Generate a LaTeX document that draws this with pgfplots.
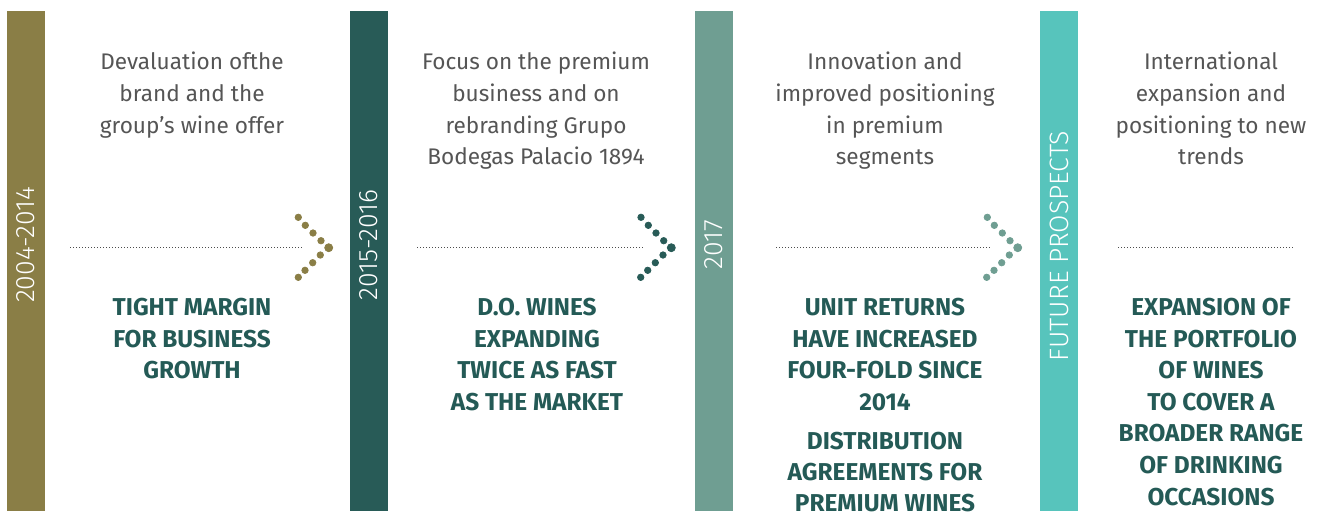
\documentclass[border=0pt]{standalone}
\usepackage{pgfplots}
\pgfplotsset{compat=1.18}
\usepackage{fontspec}
\setmainfont{Fira Sans}
\newfontfamily\lightfont{Fira Sans Light}
\definecolor{olive}{HTML}{8A7E46}
\definecolor{darkteal}{HTML}{285B57}
\definecolor{sage}{HTML}{6F9E92}
\definecolor{turq}{HTML}{57C4BC}
\definecolor{graytext}{HTML}{555555}
\definecolor{boldteal}{HTML}{245A56}
\tikzset{
  gt/.style={anchor=base, inner sep=0pt, text=graytext, font=\fontsize{11.3}{12}\selectfont},
  bt/.style={anchor=base, inner sep=0pt, text=boldteal, font=\fontsize{12.2}{12}\selectfont\bfseries},
  vt/.style={rotate=90, inner sep=0pt, text=white, font=\fontsize{13.3}{14}\selectfont\lightfont}}
\begin{document}
\begin{tikzpicture}
\useasboundingbox (0,0) rectangle (660pt,255.5pt);
\clip (0,0) rectangle (660pt,255.5pt);
\begin{axis}[at={(0,0)}, anchor=south west, scale only axis,
  width=660pt, height=255.5pt, xmin=0, xmax=1320, ymin=0, ymax=511,
  y dir=reverse, hide axis, clip=false]
% vertical bars
\addplot[fill=olive, draw=none] coordinates {(7,11) (45,11) (45,511) (7,511)} -- cycle;
\addplot[fill=darkteal, draw=none] coordinates {(350,11) (388,11) (388,511) (350,511)} -- cycle;
\addplot[fill=sage, draw=none] coordinates {(695,11) (733,11) (733,511) (695,511)} -- cycle;
\addplot[fill=turq, draw=none] coordinates {(1040,11) (1078,11) (1078,511) (1040,511)} -- cycle;
% dotted lines
\addplot[densely dotted, line width=0.5pt, black!70] coordinates {(70,247) (302,247)};
\addplot[densely dotted, line width=0.5pt, black!70] coordinates {(417,247) (645,247)};
\addplot[densely dotted, line width=0.5pt, black!70] coordinates {(776,247) (990,247)};
\addplot[densely dotted, line width=0.5pt, black!70] coordinates {(1118,247) (1294,247)};
% chevrons
\addplot[only marks, mark=*, mark size=1.6pt, olive] coordinates {(298.3,217.3) (305.3,225.3) (313,233) (321,240.7) (320.3,255) (312.7,262.7) (305,270.3) (298.3,277.3)};
\addplot[only marks, mark=*, mark size=2pt, olive] coordinates {(328.7,247.7)};
\addplot[only marks, mark=*, mark size=1.6pt, darkteal] coordinates {(641,217.3) (648.3,225.3) (656,233) (663.7,240.7) (663,255) (655.3,262.7) (647.7,270.3) (640.7,277.3)};
\addplot[only marks, mark=*, mark size=2pt, darkteal] coordinates {(671.3,247.7)};
\addplot[only marks, mark=*, mark size=1.6pt, sage] coordinates {(987.3,217.3) (994.3,225.3) (1002.3,233) (1010,240.7) (1009.3,255) (1001.7,262.7) (994,270.3) (986.7,277.3)};
\addplot[only marks, mark=*, mark size=2pt, sage] coordinates {(1017.7,247.7)};
% vertical labels
\node[vt] at (axis cs:26,245) {2004-2014};
\node[vt] at (axis cs:369,245) {2015-2016};
\node[vt] at (axis cs:714,245) {2017};
\node[vt] at (axis cs:1059,246) {FUTURE PROSPECTS};
% gray texts
\node[gt] at (axis cs:192,69) {Devaluation ofthe};
\node[gt] at (axis cs:192,101) {brand and the};
\node[gt] at (axis cs:192,133) {group{\char"0027}s wine offer};
\node[gt] at (axis cs:536,69) {Focus on the premium};
\node[gt] at (axis cs:536,101) {business and on};
\node[gt] at (axis cs:536,133) {rebranding Grupo};
\node[gt] at (axis cs:536,164) {Bodegas Palacio 1894};
\node[gt] at (axis cs:885,69) {Innovation and};
\node[gt] at (axis cs:885,101) {improved positioning};
\node[gt] at (axis cs:885,133) {in premium};
\node[gt] at (axis cs:885,164) {segments};
\node[gt] at (axis cs:1211,69) {International};
\node[gt] at (axis cs:1211,101) {expansion and};
\node[gt] at (axis cs:1211,133) {positioning to new};
\node[gt] at (axis cs:1211,164) {trends};
% bold texts
\node[bt] at (axis cs:192,315) {TIGHT MARGIN};
\node[bt] at (axis cs:192,347) {FOR BUSINESS};
\node[bt] at (axis cs:192,378) {GROWTH};
\node[bt] at (axis cs:537,315) {D.O. WINES};
\node[bt] at (axis cs:537,347) {EXPANDING};
\node[bt] at (axis cs:537,378) {TWICE AS FAST};
\node[bt] at (axis cs:537,410) {AS THE MARKET};
\node[bt] at (axis cs:885,315) {UNIT RETURNS};
\node[bt] at (axis cs:885,347) {HAVE INCREASED};
\node[bt] at (axis cs:885,378) {FOUR-FOLD SINCE};
\node[bt] at (axis cs:885,410) {2014};
\node[bt] at (axis cs:885,449) {DISTRIBUTION};
\node[bt] at (axis cs:885,480) {AGREEMENTS FOR};
\node[bt] at (axis cs:885,511) {PREMIUM WINES};
\node[bt] at (axis cs:1211,315) {EXPANSION OF};
\node[bt] at (axis cs:1211,347) {THE PORTFOLIO};
\node[bt] at (axis cs:1211,378) {OF WINES};
\node[bt] at (axis cs:1211,410) {TO COVER A};
\node[bt] at (axis cs:1211,441) {BROADER RANGE};
\node[bt] at (axis cs:1211,473) {OF DRINKING};
\node[bt] at (axis cs:1211,505) {OCCASIONS};
\end{axis}
\end{tikzpicture}
\end{document}
